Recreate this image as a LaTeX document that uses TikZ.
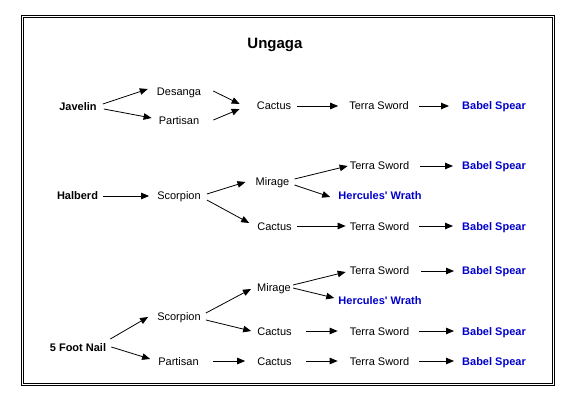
\documentclass[tikz,border=0pt]{standalone}
\usepackage{fontspec}
\setmainfont{Liberation Sans}
\usetikzlibrary{arrows.meta}
\definecolor{itemblue}{RGB}{0,0,204}
\begin{document}
\begin{tikzpicture}[x=1pt,y=-1pt,
  lbl/.style={inner sep=0pt,anchor=center,font=\fontsize{11}{13}\selectfont,text height=9pt,text depth=1pt},
  root/.style={lbl,font=\fontsize{11}{13}\selectfont\bfseries},
  final/.style={lbl,font=\fontsize{11}{13}\selectfont\bfseries,text=itemblue},
  conn/.style={line width=0.8pt,-{Triangle[length=8pt,width=6.5pt]}},
  frame/.style={line width=1pt}]
\useasboundingbox (0,0) rectangle (579,401);
\fill[white] (0,0) rectangle (579,401);
\draw[frame] (21,15.5) rectangle (554.5,385.5);
\draw[frame] (23.5,18) rectangle (552,383);
\node[inner sep=0pt,font=\fontsize{15}{18}\selectfont\bfseries,text height=11pt,text depth=0pt] (title) at (275,43.5) {Ungaga};
% row 1
\node[root] (jav) at (78,107) {Javelin};
\node[lbl] (des) at (179,92) {Desanga};
\node[lbl] (par1) at (179,121) {Partisan};
\node[lbl] (cac1) at (274,106) {Cactus};
\node[lbl] (ts1) at (379,106) {Terra Sword};
\node[final] (bs1) at (494,106) {Babel Spear};
% row 2
\node[root] (hal) at (77.5,196) {Halberd};
\node[lbl] (sco2) at (179,196) {Scorpion};
\node[lbl] (mir2) at (272.5,182) {Mirage};
\node[lbl] (ts2a) at (379.5,166) {Terra Sword};
\node[final] (bs2a) at (494,166) {Babel Spear};
\node[final] (her2) at (380,196) {Hercules\textquotesingle\ Wrath};
\node[lbl] (cac2) at (274.5,226) {Cactus};
\node[lbl] (ts2b) at (379.5,226) {Terra Sword};
\node[final] (bs2b) at (494,226) {Babel Spear};
% row 3
\node[root] (fn) at (78,347) {5 Foot Nail};
\node[lbl] (sco3) at (179,316) {Scorpion};
\node[lbl] (mir3) at (274,287) {Mirage};
\node[lbl] (ts3a) at (379.5,271) {Terra Sword};
\node[final] (bs3a) at (494,271) {Babel Spear};
\node[final] (her3) at (380,301) {Hercules\textquotesingle\ Wrath};
\node[lbl] (cac3a) at (274.5,331) {Cactus};
\node[lbl] (ts3b) at (379.5,331) {Terra Sword};
\node[final] (bs3b) at (494,331) {Babel Spear};
\node[lbl] (par3) at (178.5,361) {Partisan};
\node[lbl] (cac3b) at (274.5,361) {Cactus};
\node[lbl] (ts3c) at (379.5,361) {Terra Sword};
\node[final] (bs3c) at (494,361) {Babel Spear};
% connectors row 1
\draw[conn] ([shift={(6,-3)}]jav.east) -- ([shift={(-9,-3)}]des.west);
\draw[conn] ([shift={(7,2)}]jav.east) -- ([shift={(-7,-3)}]par1.west);
\draw[conn] ([shift={(12,-1)}]des.east) -- ([shift={(-17,-2)}]cac1.west);
\draw[conn] ([shift={(14,-1)}]par1.east) -- ([shift={(-17,3)}]cac1.west);
\draw[conn] ([xshift=6pt]cac1.east) -- ([xshift=-11pt]ts1.west);
\draw[conn] ([xshift=10pt]ts1.east) -- ([xshift=-13pt]bs1.west);
% connectors row 2
\draw[conn] ([xshift=5pt]hal.east) -- ([xshift=-8pt]sco2.west);
\draw[conn] ([shift={(6,-2)}]sco2.east) -- ([xshift=-10pt]mir2.west);
\draw[conn] ([shift={(6,4)}]sco2.east) -- ([shift={(-8,-3)}]cac2.west);
\draw[conn] ([shift={(5,-3)}]mir2.east) -- ([xshift=-2pt]ts2a.west);
\draw[conn] ([shift={(5,3)}]mir2.east) -- ([shift={(-8,1)}]her2.west);
\draw[conn] ([xshift=11pt]ts2a.east) -- ([xshift=-9pt]bs2a.west);
\draw[conn] ([xshift=5pt]cac2.east) -- ([xshift=-4pt]ts2b.west);
\draw[conn] ([xshift=10pt]ts2b.east) -- ([xshift=-9pt]bs2b.west);
% connectors row 3
\draw[conn] ([shift={(4,-8)}]fn.east) -- ([shift={(-9,1)}]sco3.west);
\draw[conn] ([shift={(5,0)}]fn.east) -- ([shift={(-8,-2)}]par3.west);
\draw[conn] ([shift={(5,-3)}]sco3.east) -- ([shift={(-6,2)}]mir3.west);
\draw[conn] ([shift={(5,4)}]sco3.east) -- ([xshift=-6pt]cac3a.west);
\draw[conn] ([shift={(2,-2)}]mir3.east) -- ([shift={(-4,1)}]ts3a.west);
\draw[conn] ([shift={(2,1)}]mir3.east) -- ([shift={(-4,-3)}]her3.west);
\draw[conn] ([xshift=12pt]ts3a.east) -- ([xshift=-8pt]bs3a.west);
\draw[conn] ([xshift=14pt]cac3a.east) -- ([xshift=-12pt]ts3b.west);
\draw[conn] ([xshift=10pt]ts3b.east) -- ([xshift=-8pt]bs3b.west);
\draw[conn] ([xshift=14pt]par3.east) -- ([xshift=-12pt]cac3b.west);
\draw[conn] ([xshift=14pt]cac3b.east) -- ([xshift=-12pt]ts3c.west);
\draw[conn] ([xshift=10pt]ts3c.east) -- ([xshift=-8pt]bs3c.west);
\end{tikzpicture}
\end{document}
